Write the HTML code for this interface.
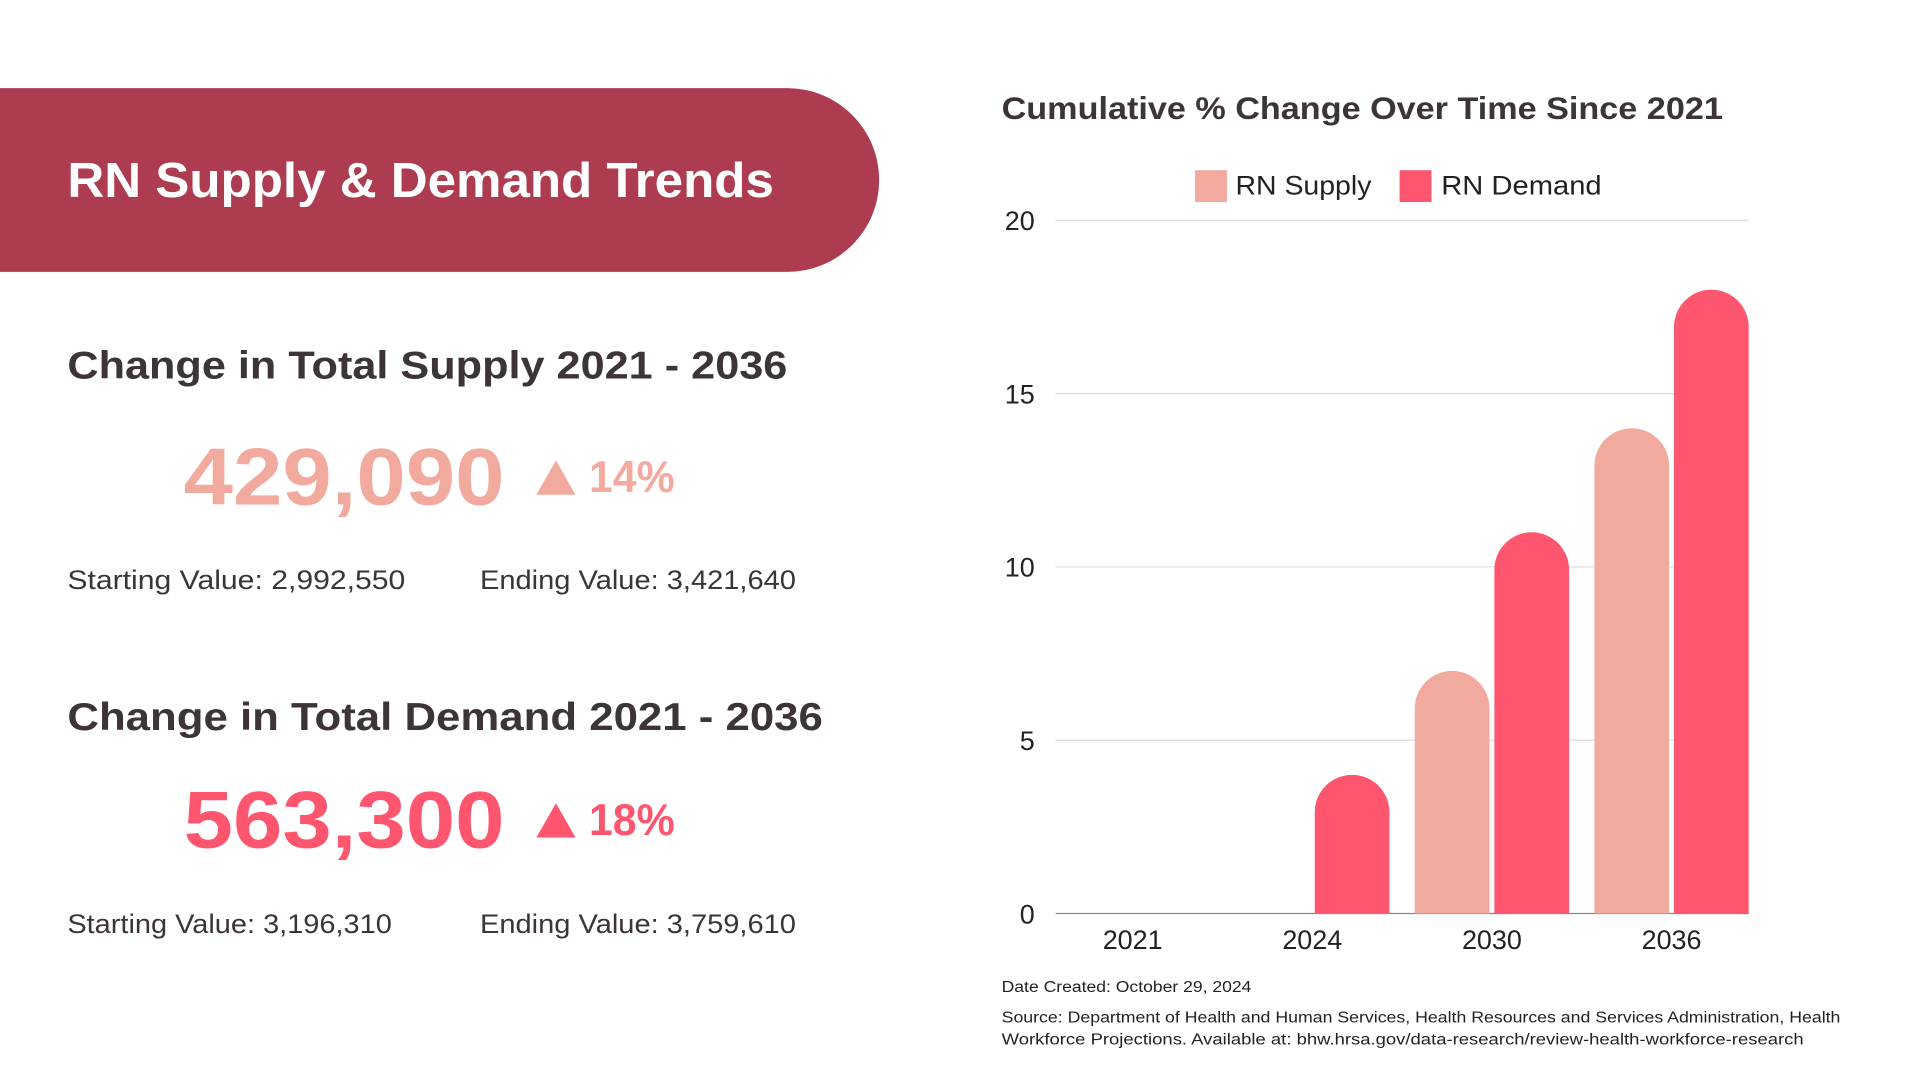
<!DOCTYPE html>
<html><head><meta charset="utf-8"><style>
html,body{margin:0;padding:0;background:#fff;}
svg{display:block;}
text{font-family:"Liberation Sans",sans-serif;}
</style></head><body>
<svg id="root" width="1920" height="1080" viewBox="0 0 1568 882" preserveAspectRatio="none">
<path d="M0 72 H643 A75 75 0 0 1 643 222 H0 Z" fill="#ae3c51"/>
<text x="55" y="161" font-size="40" font-weight="bold" fill="#fff" textLength="577" lengthAdjust="spacingAndGlyphs">RN Supply &amp; Demand Trends</text>

<text x="55" y="309" font-size="32" font-weight="bold" fill="#3d3435" textLength="588" lengthAdjust="spacingAndGlyphs">Change in Total Supply 2021 - 2036</text>
<text x="150" y="412" font-size="66" font-weight="bold" fill="#f2aa9e" textLength="262" lengthAdjust="spacingAndGlyphs">429,090</text>
<polygon points="438,404 454,376 470,404" fill="#f2aa9e"/>
<text x="481" y="402" font-size="36" font-weight="bold" fill="#f2aa9e" textLength="70" lengthAdjust="spacingAndGlyphs">14%</text>
<text x="55" y="481" font-size="22" fill="#3d3435" textLength="276" lengthAdjust="spacingAndGlyphs">Starting Value: 2,992,550</text>
<text x="392" y="481" font-size="22" fill="#3d3435" textLength="258" lengthAdjust="spacingAndGlyphs">Ending Value: 3,421,640</text>

<text x="55" y="596" font-size="32" font-weight="bold" fill="#3d3435" textLength="617" lengthAdjust="spacingAndGlyphs">Change in Total Demand 2021 - 2036</text>
<text x="150" y="692" font-size="66" font-weight="bold" fill="#ff5670" textLength="262" lengthAdjust="spacingAndGlyphs">563,300</text>
<polygon points="438,684 454,656 470,684" fill="#ff5670"/>
<text x="481" y="682" font-size="36" font-weight="bold" fill="#ff5670" textLength="70" lengthAdjust="spacingAndGlyphs">18%</text>
<text x="55" y="762" font-size="22" fill="#3d3435" textLength="265" lengthAdjust="spacingAndGlyphs">Starting Value: 3,196,310</text>
<text x="392" y="762" font-size="22" fill="#3d3435" textLength="258" lengthAdjust="spacingAndGlyphs">Ending Value: 3,759,610</text>

<text x="818" y="97" font-size="26" font-weight="bold" fill="#3d3435" textLength="589" lengthAdjust="spacingAndGlyphs">Cumulative % Change Over Time Since 2021</text>
<g>
<rect x="976" y="139" width="26" height="26" fill="#f2aa9e"/>
<text x="1009" y="159" font-size="22" fill="#222" textLength="111" lengthAdjust="spacingAndGlyphs">RN Supply</text>
<rect x="1143" y="139" width="26" height="26" fill="#ff5670"/>
<text x="1177" y="159" font-size="22" fill="#222" textLength="131" lengthAdjust="spacingAndGlyphs">RN Demand</text>
</g>
<g id="chart"></g>

<text x="818" y="810" font-size="13" fill="#222" textLength="204" lengthAdjust="spacingAndGlyphs">Date Created: October 29, 2024</text>
<text x="818" y="835" font-size="13" fill="#222" textLength="685" lengthAdjust="spacingAndGlyphs">Source: Department of Health and Human Services, Health Resources and Services Administration, Health</text>
<text x="818" y="853" font-size="13" fill="#222" textLength="655" lengthAdjust="spacingAndGlyphs">Workforce Projections. Available at: bhw.hrsa.gov/data-research/review-health-workforce-research</text>
</svg>
<script>
const categories = ["2021","2024","2030","2036"];
const supplyValues = [0,0,7,14];
const demandValues = [0,4,11,18];
const yTicks = [0,5,10,15,20];

const NS="http://www.w3.org/2000/svg";
const g=document.getElementById('chart');
const plotL=862, plotR=1428, y0=746, y20=180, yMax=20;
const firstCenter=925, band=146.7;
const yScale=v=>y0-(v/yMax)*(y0-y20);
const xCenter=i=>firstCenter+band*i;
function mk(tag,attrs){const e=document.createElementNS(NS,tag);for(const k in attrs)e.setAttribute(k,attrs[k]);g.appendChild(e);return e;}
yTicks.forEach(t=>{
  const y=yScale(t);
  const l=mk('line',{x1:plotL,x2:plotR,y1:y,y2:y,stroke:t===0?'#888':'#ddd','stroke-width':1});
  
  
  const tx=mk('text',{x:845,y:y+8,'font-size':22,'text-anchor':'end',fill:'#222'});
  tx.textContent=t;
  
  
});
const bw=61, gap=4;
function bar(x,v,color,name){
  if(v<=0) return;
  const top=yScale(v), r=Math.min(bw/2, (y0-top));
  const d=`M${x} ${y0} V${top+r} A${bw/2} ${r} 0 0 1 ${x+bw} ${top+r} V${y0} Z`;
  const p=mk('path',{d:d,fill:color});
  
  
}
categories.forEach((c,i)=>{
  const cx=xCenter(i);
  bar(cx-gap/2-bw,supplyValues[i],'#f2aa9e','bar-supply-'+c);
  bar(cx+gap/2,demandValues[i],'#ff5670','bar-demand-'+c);
  const t=mk('text',{x:cx,y:775,'font-size':22,'text-anchor':'middle',fill:'#222'});
  t.textContent=c;
  
  
});
</script>
</body></html>
